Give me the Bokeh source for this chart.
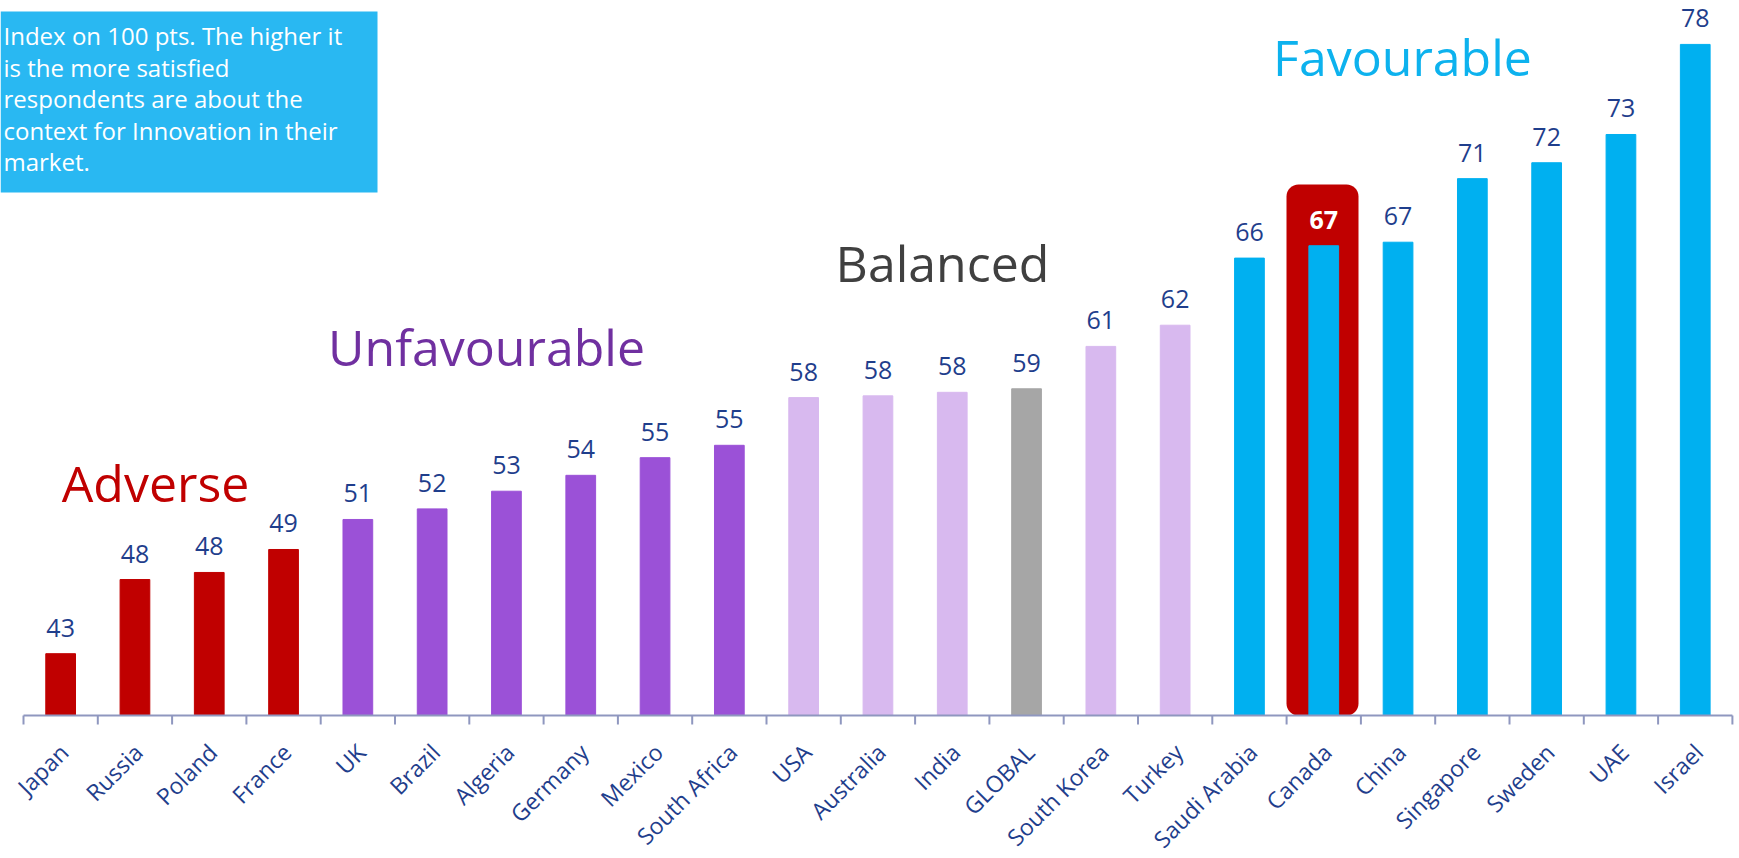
import math
from bokeh.plotting import figure
from bokeh.models import ColumnDataSource, Range1d, LabelSet, Label, BoxAnnotation
from bokeh.core.properties import value
from bokeh.embed import file_html
from bokeh.resources import INLINE

# ---------------- data ----------------
countries = ["Japan", "Russia", "Poland", "France", "UK", "Brazil", "Algeria", "Germany",
             "Mexico", "South Africa", "USA", "Australia", "India", "GLOBAL", "South Korea",
             "Turkey", "Saudi Arabia", "Canada", "China", "Singapore", "Sweden", "UAE", "Israel"]
index_values = [43.5, 47.7, 48.1, 49.4, 51.1, 51.7, 52.7, 53.6, 54.6, 55.3, 58.0, 58.1,
                58.3, 58.5, 60.9, 62.1, 65.9, 66.6, 66.8, 70.4, 71.3, 72.9, 78.0]
value_labels = ["43", "48", "48", "49", "51", "52", "53", "54", "55", "55", "58", "58",
                "58", "59", "61", "62", "66", "67", "67", "71", "72", "73", "78"]
groups = (["Adverse"] * 4 + ["Unfavourable"] * 6 + ["Balanced"] * 3 + ["Global"]
          + ["Balanced"] * 2 + ["Favourable"] * 7)
highlight = "Canada"
group_titles = ["Adverse", "Unfavourable", "Balanced", "Favourable"]
note_lines = ["Index on 100 pts. The higher it", "is the more  satisfied",
              "respondents are about the", "context for Innovation in their", "market."]

group_colors = {"Adverse": "#C00000", "Unfavourable": "#9B51D7", "Balanced": "#D8B9EF",
                "Global": "#A6A6A6", "Favourable": "#00B0F0"}
title_colors = {"Adverse": "#C00000", "Unfavourable": "#7030A0", "Balanced": "#404040",
                "Favourable": "#0DB2EE"}

# ---------------- layout constants (pixels) ----------------
W, H = 1739, 858
CAT_W = 74.3          # px per category
AXIS_PX = 715         # axis line, px from top
PX_PER_UNIT = 17.66
BASE = 40.0
X0 = -23 / CAT_W
X1 = X0 + W / CAT_W
Y0 = BASE - (H - AXIS_PX) / PX_PER_UNIT
Y1 = BASE + AXIS_PX / PX_PER_UNIT


def px_x(px):
    return X0 + px / CAT_W


def px_y(py):
    return BASE + (AXIS_PX - py) / PX_PER_UNIT


LABEL_BLUE = "#1F3E8C"
AXIS_GREY = "#8F97BF"
FONT = "Open Sans"

# ---------------- figure ----------------
p = figure(x_range=Range1d(X0, X1), y_range=Range1d(Y0, Y1),
           width=W, height=H, output_backend="svg", toolbar_location=None,
           x_axis_location=None, y_axis_location=None,
           min_border_left=0, min_border_right=0, min_border_top=0, min_border_bottom=0)
p.outline_line_color = None
p.xgrid.visible = False
p.ygrid.visible = False
p.background_fill_color = "white"
p.border_fill_color = "white"

n = len(countries)
xs = [i + 0.5 for i in range(n)]

# note box
p.add_layout(BoxAnnotation(left=px_x(0), right=px_x(377), top=px_y(11), bottom=px_y(192),
                           fill_color="#29B8F2", fill_alpha=1.0, line_color=None,
                           level="underlay"))

# highlight box behind Canada
hi = countries.index(highlight)
p.add_layout(BoxAnnotation(left=px_x(1286), right=px_x(1358), bottom=BASE, top=px_y(184),
                           fill_color="#C00000", fill_alpha=1.0, line_color=None,
                           border_radius=12, level="underlay"))

# bars
src = ColumnDataSource(dict(x=xs, top=index_values, color=[group_colors[g] for g in groups]))
p.vbar(x="x", top="top", bottom=BASE, width=0.40, color="color", source=src)

# category axis: base line, ticks at category boundaries, rotated labels
bounds = list(range(n + 1))
p.segment(x0=[0], y0=[BASE], x1=[n], y1=[BASE], line_color=AXIS_GREY, line_width=2)
p.segment(x0=bounds, y0=[BASE] * len(bounds), x1=bounds,
          y1=[px_y(AXIS_PX + 9)] * len(bounds), line_color=AXIS_GREY, line_width=2)
p.text(x=xs, y=[px_y(AXIS_PX + 21)] * n, text=countries, angle=math.pi / 4,
       text_align="right", text_baseline="top", x_offset=-8,
       text_font=value(FONT), text_font_size="23px", text_color=LABEL_BLUE)

# value labels
norm_idx = [i for i, c in enumerate(countries) if c != highlight]
src_lab = ColumnDataSource(dict(x=[xs[i] for i in norm_idx],
                                y=[index_values[i] for i in norm_idx],
                                t=[value_labels[i] for i in norm_idx]))
p.add_layout(LabelSet(x="x", y="y", text="t", source=src_lab, y_offset=17,
                      text_align="center", text_baseline="alphabetic",
                      text_font=value(FONT), text_font_size="25px", text_color=LABEL_BLUE))
src_hi = ColumnDataSource(dict(x=[xs[hi]], y=[index_values[hi]], t=[value_labels[hi]]))
p.add_layout(LabelSet(x="x", y="y", text="t", source=src_hi, y_offset=17,
                      text_align="center", text_baseline="alphabetic",
                      text_font=value(FONT), text_font_size="25px",
                      text_font_style="bold", text_color="white"))

# group titles (centre x, baseline y in px)
title_pos = {"Adverse": (155, 482), "Unfavourable": (486, 346),
             "Balanced": (942, 262), "Favourable": (1402, 56)}
for name in group_titles:
    cx, by = title_pos[name]
    p.add_layout(Label(x=px_x(cx), y=px_y(by), text=name, text_align="center",
                       text_baseline="alphabetic", text_font=FONT, text_font_size="50px",
                       text_color=title_colors[name]))

for i, line in enumerate(note_lines):
    p.add_layout(Label(x=px_x(3), y=px_y(35 + 31.5 * i), text=line, text_align="left",
                       text_baseline="alphabetic", text_font=FONT, text_font_size="24px",
                       text_color="white"))

open("out.html", "w").write(file_html(p, INLINE))
